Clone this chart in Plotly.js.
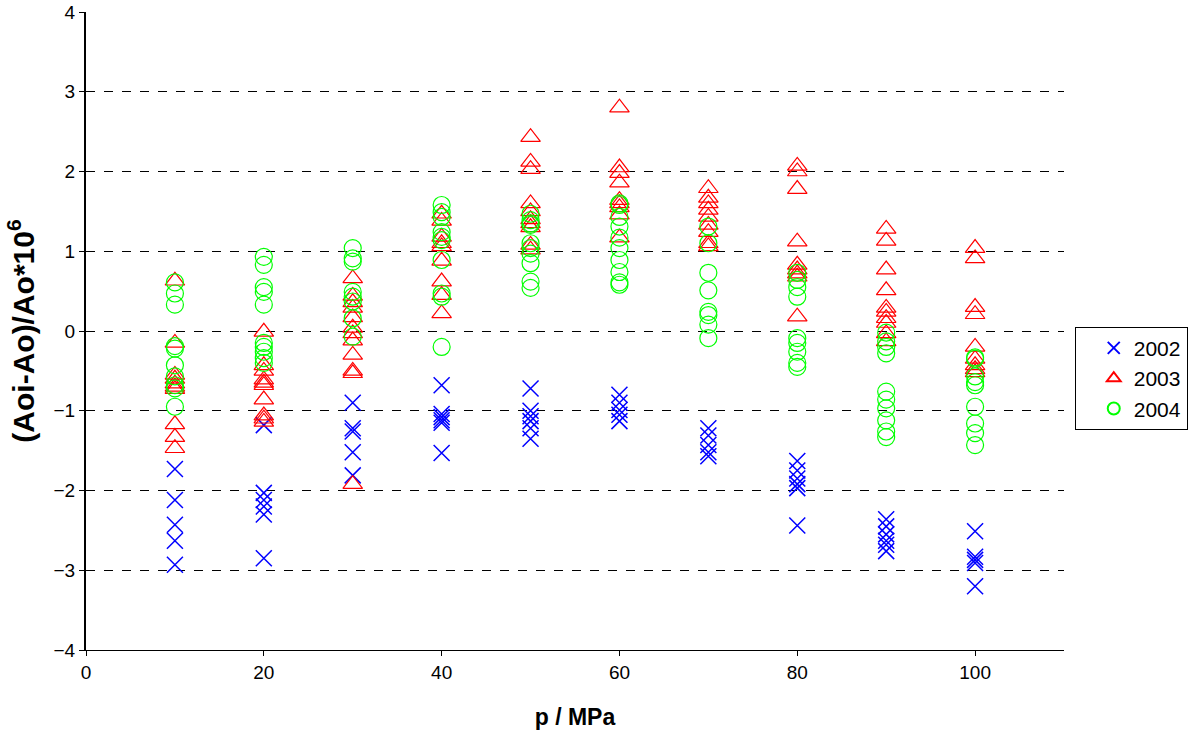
<!DOCTYPE html>
<html>
<head>
<meta charset="utf-8">
<script src="https://cdn.plot.ly/plotly-3.0.1.min.js"></script>
<style>html,body{margin:0;padding:0;background:#fff;}#chart{width:1189px;height:735px;}</style>
</head>
<body>
<div id="chart"></div>
<script>
// Data
const x2002 = [10,10,10,10,10, 20,20,20,20,20,20, 30,30,30,30,30, 40,40,40,40,40,40, 50,50,50,50,50,50, 60,60,60,60,60, 70,70,70,70,70, 80,80,80,80,80,80, 90,90,90,90,90,90, 100,100,100,100,100];
const y2002 = [-1.73,-2.12,-2.43,-2.63,-2.93, -1.18,-2.03,-2.12,-2.2,-2.3,-2.85, -0.9,-1.22,-1.26,-1.52,-1.81, -0.68,-1.04,-1.08,-1.12,-1.15,-1.53, -0.72,-1.0,-1.07,-1.13,-1.22,-1.35, -0.8,-0.9,-0.99,-1.05,-1.13, -1.22,-1.31,-1.43,-1.52,-1.57, -1.63,-1.75,-1.85,-1.92,-1.97,-2.44, -2.36,-2.45,-2.55,-2.63,-2.68,-2.76, -2.51,-2.83,-2.87,-2.91,-3.2];

const x2003 = [10,10,10,10,10,10,10,10,10,10, 20,20,20,20,20,20,20,20,20,20, 30,30,30,30,30,30,30,30,30,30,30,30, 40,40,40,40,40,40,40,40,40, 50,50,50,50,50,50,50,50,50,50, 60,60,60,60,60,60,60,60,60, 70,70,70,70,70,70,70,70,70, 80,80,80,80,80,80,80,80,80, 90,90,90,90,90,90,90,90,90,90, 100,100,100,100,100,100,100,100,100];
const y2003 = [0.63,-0.15,-0.55,-0.6,-0.66,-0.7,-0.73,-1.17,-1.33,-1.47, -0.01,-0.43,-0.5,-0.61,-0.65,-0.68,-0.86,-1.06,-1.1,-1.14, 0.66,0.44,0.36,0.29,0.17,0.04,-0.03,-0.12,-0.3,-0.5,-0.53,-1.92, 1.47,1.38,1.18,1.1,1.06,0.88,0.62,0.45,0.22, 2.43,2.12,2.03,1.6,1.5,1.4,1.35,1.3,1.08,1.02, 2.8,2.05,1.98,1.86,1.64,1.6,1.55,1.46,1.17, 1.79,1.67,1.6,1.52,1.43,1.33,1.24,1.1,1.06, 2.07,2.0,1.78,1.12,0.83,0.77,0.72,0.68,0.18, 1.28,1.13,0.77,0.51,0.29,0.24,0.16,0.1,-0.03,-0.13, 1.04,0.91,0.3,0.21,-0.2,-0.35,-0.43,-0.48,-0.52];

const x2004 = [10,10,10,10,10,10,10,10,10,10, 20,20,20,20,20,20,20,20,20,20, 30,30,30,30,30,30,30,30, 40,40,40,40,40,40,40,40,40,40, 50,50,50,50,50,50,50,50,50,50, 60,60,60,60,60,60,60,60,60,60, 70,70,70,70,70,70,70,70, 80,80,80,80,80,80,80,80,80, 90,90,90,90,90,90,90,90,90,90, 100,100,100,100,100,100,100,100,100];
const y2004 = [0.61,0.47,0.33,-0.19,-0.22,-0.43,-0.57,-0.68,-0.72,-0.95, 0.93,0.83,0.55,0.49,0.33,-0.15,-0.2,-0.26,-0.34,-0.4, 1.04,0.91,0.87,0.49,0.43,0.37,0.16,-0.07, 1.58,1.49,1.43,1.24,1.18,1.14,0.89,0.47,0.43,-0.2, 1.47,1.39,1.35,1.33,1.1,1.04,0.97,0.85,0.62,0.54, 1.6,1.58,1.43,1.31,1.17,1.04,0.89,0.74,0.61,0.58, 1.31,1.1,0.73,0.51,0.24,0.2,0.08,-0.09, 0.73,0.64,0.55,0.43,-0.09,-0.15,-0.26,-0.4,-0.45, -0.02,-0.13,-0.2,-0.28,-0.76,-0.86,-0.97,-1.12,-1.26,-1.33, -0.33,-0.35,-0.57,-0.64,-0.68,-0.95,-1.16,-1.28,-1.43];

const seriesNames = ['2002','2003','2004'];
const xTicks = [0,20,40,60,80,100];
const yTicks = [-4,-3,-2,-1,0,1,2,3,4];

const traces = [
  {x: x2002, y: y2002, name: seriesNames[0], type: 'scatter', mode: 'markers',
   marker: {symbol: 'x-thin-open', size: 16, color: '#0000FF', line: {color: '#0000FF', width: 1.5}}},
  {x: x2003, y: y2003, name: seriesNames[1], type: 'scatter', mode: 'markers',
   marker: {symbol: 'triangle-up-open', size: 17, color: '#FF0000', line: {color: '#FF0000', width: 1.2}}},
  {x: x2004, y: y2004, name: seriesNames[2], type: 'scatter', mode: 'markers',
   marker: {symbol: 'circle-open', size: 17, color: '#00FF00', line: {color: '#00FF00', width: 1.2}}}
];

const layout = {
  width: 1189, height: 735,
  paper_bgcolor: '#FFFFFF', plot_bgcolor: '#FFFFFF',
  margin: {l: 86, r: 125, t: 12, b: 85, autoexpand: false},
  font: {family: '"Liberation Sans", Arial, sans-serif', size: 19, color: '#000'},
  showlegend: true,
  legend: {x: 1.011, xanchor: 'left', y: 0.426, yanchor: 'middle',
    bordercolor: '#000', borderwidth: 1, bgcolor: '#FFFFFF',
    font: {size: 21}, itemsizing: 'constant', tracegroupgap: 0, itemwidth: 30, indentation: 18},
  xaxis: {range: [0, 110], tickvals: xTicks, ticks: 'outside', ticklen: 5, tickcolor: '#000',
    showline: true, linecolor: '#000', linewidth: 1, showgrid: false, zeroline: false,
    title: {text: '<b>p / MPa</b>', font: {size: 23}, standoff: 27}},
  yaxis: {range: [-4, 4], tickvals: yTicks, ticks: 'outside', ticklen: 5, tickcolor: '#000',
    showline: true, linecolor: '#000', linewidth: 2, showgrid: true, gridcolor: '#000',
    griddash: 'dash', gridwidth: 1, zeroline: false,
    title: {text: '<b>(Aoi-Ao)/Ao*10<sup>6</sup></b>', font: {size: 30}, standoff: 10}}
};

Plotly.newPlot('chart', traces, layout, {displayModeBar: false, staticPlot: true});
</script>
</body>
</html>
